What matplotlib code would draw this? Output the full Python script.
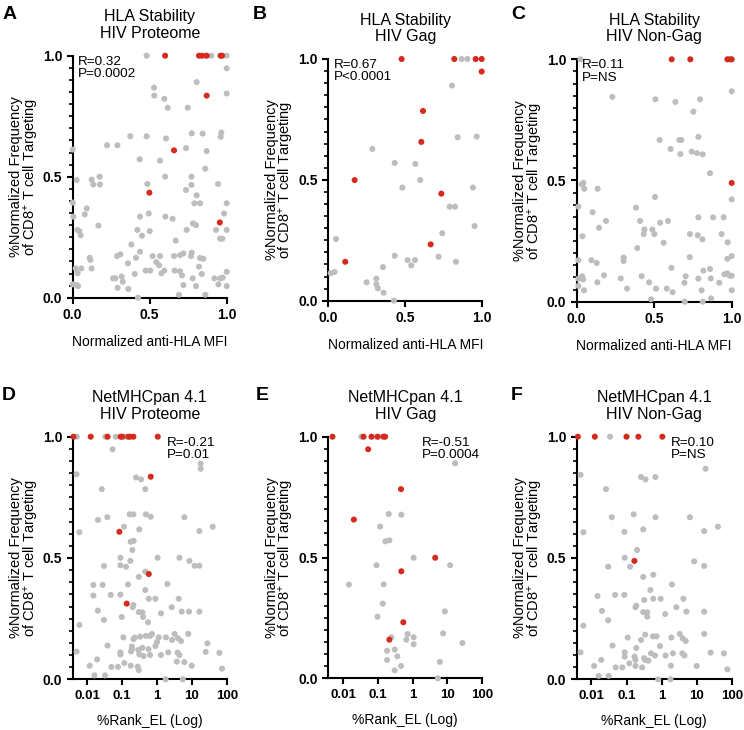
import matplotlib
matplotlib.use('Agg')
import matplotlib.pyplot as plt
from matplotlib.ticker import MultipleLocator, NullLocator

plt.rcParams['font.family'] = ['Liberation Sans', 'DejaVu Sans']
plt.rcParams['mathtext.fontset'] = 'custom'
plt.rcParams['mathtext.rm'] = 'Liberation Sans'
plt.rcParams['mathtext.it'] = 'Liberation Sans:italic'
plt.rcParams['mathtext.bf'] = 'Liberation Sans:bold'

GRAY = '#BDBDBD'
RED = '#D52B1E'

# ---------------- data ----------------
A_gray = [(0.48,1.0),(0.86,1.0),(0.90,1.0),(1.0,1.0),(1.0,0.948),(0.805,0.891),(0.528,0.868),(0.530,0.835),
          (0.595,0.822),(1.0,0.844),(0.617,0.785),(0.747,0.785),(0.374,0.667),(0.480,0.667),(0.606,0.658),
          (0.773,0.679),(0.844,0.678),(0.965,0.682),(0.961,0.665),(0.223,0.630),(0.290,0.630),(0.0,0.612),
          (0.736,0.618),(0.870,0.606),(0.435,0.572),(0.567,0.566),(0.861,0.533),(0.771,0.5),(0.600,0.5),
          (0.175,0.5),(0.123,0.488),(0.026,0.486),(0.485,0.470),(0.134,0.468),(0.177,0.468),(0.771,0.466),
          (0.944,0.470),(0.736,0.445),(0.805,0.423),(0.0,0.393),(0.790,0.390),(0.827,0.390),(1.0,0.390),
          (0.091,0.369),(0.078,0.344),(0.004,0.335),(0.437,0.335),(0.494,0.348),(0.602,0.335),(0.649,0.326),
          (0.983,0.348),(0.781,0.307),(0.801,0.300),(0.167,0.298),(0.030,0.280),(0.043,0.275),(0.420,0.280),
          (0.500,0.275),(0.74,0.280),(0.931,0.280),(1.0,0.280),(0.052,0.258),(0.45,0.256),(0.669,0.236),
          (0.957,0.244),(0.972,0.244),(0.381,0.220),(0.437,0.190),(0.310,0.179),(0.288,0.172),(0.411,0.165),
          (0.110,0.165),(0.115,0.156),(0.519,0.172),(0.567,0.172),(0.658,0.172),(0.697,0.176),(0.719,0.183),
          (0.773,0.186),(0.768,0.172),(0.827,0.164),(0.848,0.161),(0.359,0.142),(0.543,0.147),(0.561,0.134),
          (0.019,0.121),(0.056,0.121),(0.123,0.121),(0.403,0.098),(0.474,0.112),(0.504,0.112),(0.576,0.101),
          (0.595,0.112),(0.662,0.112),(0.697,0.109),(0.820,0.128),(0.838,0.098),(1.0,0.107),(0.032,0.101),
          (0.262,0.080),(0.277,0.080),(0.318,0.087),(0.325,0.066),(0.292,0.041),(0.361,0.036),(0.710,0.092),
          (0.779,0.080),(0.920,0.080),(0.957,0.080),(0.974,0.083),(0.0,0.055),(0.026,0.052),(0.035,0.048),
          (0.719,0.052),(0.801,0.048),(0.946,0.055),(1.0,0.048),(0.424,0.0),(0.69,0.012),(0.861,0.012)]
A_red = [(0.60,1.0),(0.82,1.0),(0.84,1.0),(0.87,1.0),(0.96,1.0),(0.97,1.0),(0.870,0.835),(0.658,0.609),
         (0.498,0.434),(0.955,0.311)]

B_gray = [(0.866,1.0),(0.903,1.0),(0.803,0.890),(0.840,0.676),(0.963,0.679),(0.286,0.628),(0.431,0.570),
          (0.565,0.566),(0.597,0.499),(0.481,0.468),(0.939,0.468),(0.788,0.389),(0.823,0.389),(0.950,0.309),
          (0.740,0.279),(0.050,0.255),(0.431,0.186),(0.716,0.182),(0.515,0.168),(0.563,0.168),(0.829,0.161),
          (0.539,0.146),(0.355,0.139),(0.015,0.114),(0.041,0.119),(0.249,0.076),(0.312,0.091),(0.312,0.068),
          (0.322,0.051),(0.359,0.033),(0.426,0.0)]
B_red = [(0.476,1.0),(0.818,1.0),(0.957,1.0),(0.996,1.0),(0.996,0.948),(0.615,0.785),(0.604,0.657),
         (0.171,0.499),(0.734,0.443),(0.665,0.233),(0.110,0.161)]

C_gray = [(0.024,1.0),(1.0,0.868),(0.230,0.845),(0.508,0.835),(0.637,0.824),(0.796,0.835),(0.753,0.784),
          (0.535,0.667),(0.662,0.667),(0.675,0.667),(0.785,0.680),(0.606,0.630),(0.669,0.609),(0.742,0.619),
          (0.776,0.613),(0.813,0.608),(0.86,0.53),(0.043,0.49),(0.032,0.484),(0.049,0.466),(0.135,0.466),
          (0.505,0.432),(1.0,0.422),(0.011,0.392),(0.383,0.388),(0.103,0.369),(0.409,0.333),(0.538,0.326),
          (0.589,0.333),(0.189,0.333),(0.144,0.305),(0.437,0.298),(0.488,0.298),(0.432,0.279),(0.501,0.279),
          (0.785,0.348),(0.948,0.348),(0.88,0.348),(0.037,0.270),(0.731,0.279),(0.781,0.274),(0.811,0.257),
          (0.935,0.279),(0.974,0.245),(0.561,0.243),(0.391,0.221),(0.011,0.171),(0.095,0.171),(0.129,0.160),
          (0.303,0.182),(0.303,0.168),(0.729,0.184),(1.0,0.188),(0.972,0.177),(0.611,0.140),(0.817,0.128),
          (0.860,0.135),(0.972,0.117),(0.953,0.113),(0.987,0.107),(1.0,0.107),(0.011,0.095),(0.035,0.105),
          (0.041,0.092),(0.011,0.065),(0.047,0.047),(0.133,0.080),(0.176,0.109),(0.284,0.096),(0.325,0.054),
          (0.419,0.105),(0.467,0.080),(0.48,0.01),(0.512,0.054),(0.581,0.054),(0.619,0.039),(0.703,0.105),
          (0.695,0.078),(0.785,0.095),(0.806,0.047),(0.813,0.0),(0.865,0.096),(0.867,0.014),(0.697,0.0),
          (0.920,0.078),(1.0,0.047)]
C_red = [(0.613,1.0),(0.733,1.0),(0.972,1.0),(0.989,1.0),(1.0,1.0),(1.0,0.49)]

D_gray = [(0.005,1.0),(0.033,1.0),(0.065,1.0),(0.12,1.0),(0.053,0.948),(17.9,0.889),(17.9,0.868),
          (0.0049,0.845),(0.25,0.832),(0.35,0.824),(0.026,0.784),(0.46,0.784),(0.164,0.680),(0.209,0.680),
          (0.48,0.680),(0.66,0.670),(0.0375,0.668),(0.0202,0.657),(6.1,0.668),(39.6,0.629),(0.113,0.629),
          (0.31,0.618),(0.0059,0.606),(16.4,0.611),(0.175,0.567),(0.214,0.571),(0.196,0.533),(0.089,0.501),
          (1.04,0.501),(4.4,0.501),(8.5,0.488),(12,0.468),(16.4,0.468),(0.03,0.467),(0.089,0.470),(0.129,0.464),
          (0.171,0.488),(0.46,0.444),(0.30,0.422),(0.0149,0.389),(0.0275,0.389),(0.147,0.391),(1.98,0.393),
          (0.46,0.368),(0.0149,0.345),(0.047,0.348),(0.089,0.349),(0.58,0.332),(0.9,0.332),(4.2,0.332),
          (0.21,0.306),(0.20,0.297),(0.02,0.283),(0.030,0.245),(0.097,0.257),(0.30,0.277),(0.38,0.276),
          (0.40,0.257),(0.55,0.235),(1.30,0.272),(2.64,0.297),(5.1,0.279),(8.3,0.279),(16.4,0.279),
          (0.0059,0.224),(0.038,0.139),(0.108,0.173),(0.21,0.166),(0.23,0.172),(0.33,0.176),(0.48,0.179),
          (0.63,0.179),(0.72,0.187),(1.0,0.154),(1.12,0.173),(1.81,0.173),(2.7,0.162),(3.2,0.187),(4.0,0.169),
          (4.9,0.158),(7.9,0.187),(27.9,0.148),(0.0049,0.114),(0.089,0.111),(0.089,0.102),(0.19,0.135),
          (0.19,0.125),(0.18,0.115),(0.29,0.121),(0.31,0.103),(0.41,0.096),(0.38,0.130),(0.57,0.124),
          (0.63,0.100),(0.9,0.137),(1.30,0.100),(2.1,0.111),(3.9,0.110),(4.4,0.100),(6.1,0.071),(9.9,0.056),
          (25,0.113),(61.7,0.109),(73.5,0.044),(0.0117,0.056),(0.019,0.082),(0.016,0.016),(0.032,0.016),
          (0.049,0.051),(0.076,0.051),(0.115,0.067),(0.175,0.056),(0.28,0.052),(0.30,0.038),(1.77,0.0),
          (5.5,0.0),(3.7,0.073)]
D_red = [(0.004,1.0),(0.0125,1.0),(0.038,1.0),(0.09,1.0),(0.1,1.0),(0.15,1.0),(0.17,1.0),(0.21,1.0),
         (1.05,1.0),(0.66,0.835),(0.083,0.608),(0.58,0.434),(0.135,0.312)]

E_gray = [(0.034,1.0),(0.09,1.0),(16.6,0.890),(0.206,0.680),(0.474,0.677),(0.117,0.628),(0.166,0.567),
          (0.215,0.571),(1.07,0.499),(0.092,0.468),(11.9,0.468),(0.0148,0.388),(0.148,0.389),(0.139,0.309),
          (8.4,0.277),(0.098,0.255),(0.72,0.183),(0.245,0.170),(1.07,0.170),(0.66,0.160),(1.07,0.141),
          (7.5,0.186),(26.8,0.146),(0.185,0.114),(0.306,0.119),(0.365,0.091),(0.185,0.076),(0.464,0.051),
          (6.04,0.068),(0.306,0.033),(5.3,0.0)]
E_red = [(0.005,1.0),(0.039,1.0),(0.066,1.0),(0.10,1.0),(0.145,1.0),(0.162,1.0),(0.053,0.948),
         (0.464,0.783),(0.0206,0.657),(4.45,0.499),(0.474,0.443),(0.541,0.232),(0.215,0.160)]

F_gray = [(0.034,1.0),(0.0049,0.843),(18,0.868),(0.26,0.834),(0.35,0.824),(0.67,0.834),(0.026,0.784),
          (0.16,0.680),(0.038,0.668),(0.67,0.668),(6.4,0.668),(40.5,0.629),(0.30,0.618),(0.087,0.608),
          (0.0059,0.606),(16.4,0.611),(0.2,0.533),(0.089,0.501),(8.5,0.486),(16.4,0.467),(0.030,0.464),
          (0.126,0.464),(0.58,0.431),(0.30,0.422),(1.98,0.391),(0.48,0.368),(0.0149,0.343),(0.047,0.348),
          (0.087,0.348),(0.32,0.327),(0.58,0.332),(0.94,0.332),(4.2,0.332),(0.18,0.297),(0.19,0.304),
          (2.64,0.297),(5.1,0.279),(16.4,0.279),(0.30,0.277),(0.39,0.276),(0.39,0.258),(1.27,0.269),
          (0.02,0.282),(0.03,0.243),(0.0059,0.221),(0.108,0.172),(0.26,0.162),(0.34,0.184),(0.57,0.177),
          (0.72,0.177),(0.9,0.137),(1.9,0.172),(3.3,0.187),(4.0,0.169),(4.9,0.158),(16.4,0.187),(0.04,0.139),
          (0.19,0.129),(0.089,0.111),(0.089,0.093),(0.17,0.093),(0.18,0.080),(0.32,0.087),(0.34,0.080),
          (0.42,0.077),(0.5,0.107),(0.65,0.098),(1.3,0.098),(2.1,0.107),(3.9,0.107),(4.5,0.098),(10,0.055),
          (25,0.110),(60,0.107),(75,0.041),(0.0049,0.111),(0.0119,0.055),(0.019,0.080),(0.016,0.014),
          (0.031,0.014),(0.049,0.049),(0.076,0.049),(0.12,0.066),(0.18,0.055),(0.28,0.049),(0.8,0.0),
          (1.8,0.0),(1.85,0.056)]
F_red = [(0.0041,1.0),(0.0125,1.0),(0.1,1.0),(0.218,1.0),(1.05,1.0),(0.168,0.488)]

titles = ["HLA Stability\nHIV Proteome", "HLA Stability\nHIV Gag", "HLA Stability\nHIV Non-Gag",
          "NetMHCpan 4.1\nHIV Proteome", "NetMHCpan 4.1\nHIV Gag", "NetMHCpan 4.1\nHIV Non-Gag"]
letters = ["A", "B", "C", "D", "E", "F"]
stats = ["R=0.32\nP=0.0002", "R=0.67\nP<0.0001", "R=0.11\nP=NS",
         "R=-0.21\nP=0.01", "R=-0.51\nP=0.0004", "R=0.10\nP=NS"]
lin_ticks = [0.0, 0.5, 1.0]
lin_ticklabels = ["0.0", "0.5", "1.0"]
log_ticks = [0.01, 0.1, 1, 10, 100]
log_ticklabels = ["0.01", "0.1", "1", "10", "100"]
ylabel = "%Normalized Frequency\nof CD8$^{+}$ T cell Targeting"
xlabels = ["Normalized anti-HLA MFI", "%Rank_EL (Log)"]

series = [(A_gray, A_red), (B_gray, B_red), (C_gray, C_red),
          (D_gray, D_red), (E_gray, E_red), (F_gray, F_red)]

# axes rectangles (pixels: left, top, right, bottom)
W, H = 744.0, 730.0
rects_px = [(72.7, 55.7, 226.7, 297.7), (328.3, 59.0, 482.3, 300.7), (576.7, 59.3, 731.7, 301.7),
            (72.7, 436.7, 226.7, 679.3), (328.3, 436.7, 482.3, 678.3), (576.7, 436.7, 731.7, 679.3)]
letter_px = [(3, 6), (253, 6), (511, 6), (2, 387), (256, 387), (511, 387)]

fig = plt.figure(figsize=(W / 100, H / 100), dpi=100)

for i in range(6):
    l, t, r, b = rects_px[i]
    ax = fig.add_axes([l / W, 1 - b / H, (r - l) / W, (b - t) / H])
    log = i >= 3
    g, rd = series[i]
    for pts, col, z in ((g, GRAY, 3), (rd, RED, 4)):
        ax.scatter([p[0] for p in pts], [p[1] for p in pts], s=19, color=col,
                   edgecolors='none', clip_on=False, zorder=z)
    for s in ('top', 'right'):
        ax.spines[s].set_visible(False)
    for s in ('left', 'bottom'):
        ax.spines[s].set_linewidth(1.5)
    ax.set_ylim(0, 1)
    ax.set_yticks(lin_ticks)
    ax.set_yticklabels(lin_ticklabels, fontweight='bold', fontsize=10)
    ax.yaxis.set_minor_locator(MultipleLocator(0.05))
    if log:
        ax.set_xscale('log')
        ax.set_xlim(0.0038, 100)
        ax.set_xticks(log_ticks)
        ax.set_xticklabels(log_ticklabels, fontweight='bold', fontsize=9.5)
        ax.xaxis.set_minor_locator(NullLocator())
        ax.set_xlabel(xlabels[1], fontsize=10, labelpad=9)
        ax.text(0.61, 1.0, stats[i], transform=ax.transAxes, ha='left', va='top',
                fontsize=9.7, linespacing=1.05)
    else:
        ax.set_xlim(0, 1)
        ax.set_xticks(lin_ticks)
        ax.set_xticklabels(lin_ticklabels, fontweight='bold', fontsize=10)
        ax.set_xlabel(xlabels[0], fontsize=10, labelpad=9.5)
        ax.text(0.035, 1.0, stats[i], transform=ax.transAxes, ha='left', va='top',
                fontsize=9.7, linespacing=1.05)
    ax.tick_params(which='major', length=4.5, width=1.5, pad=3, direction='out')
    ax.tick_params(which='minor', length=3, width=1.2, direction='out')
    ax.set_ylabel(ylabel, fontsize=10.5, labelpad=1.5, linespacing=0.9)
    ax.set_title(titles[i], fontsize=11.5, pad=13, linespacing=1.12)
    lx, ly = letter_px[i]
    fig.text(lx / W, 1 - ly / H, letters[i], fontsize=14, fontweight='bold', ha='left', va='top')

fig.savefig('out.png', dpi=100)
